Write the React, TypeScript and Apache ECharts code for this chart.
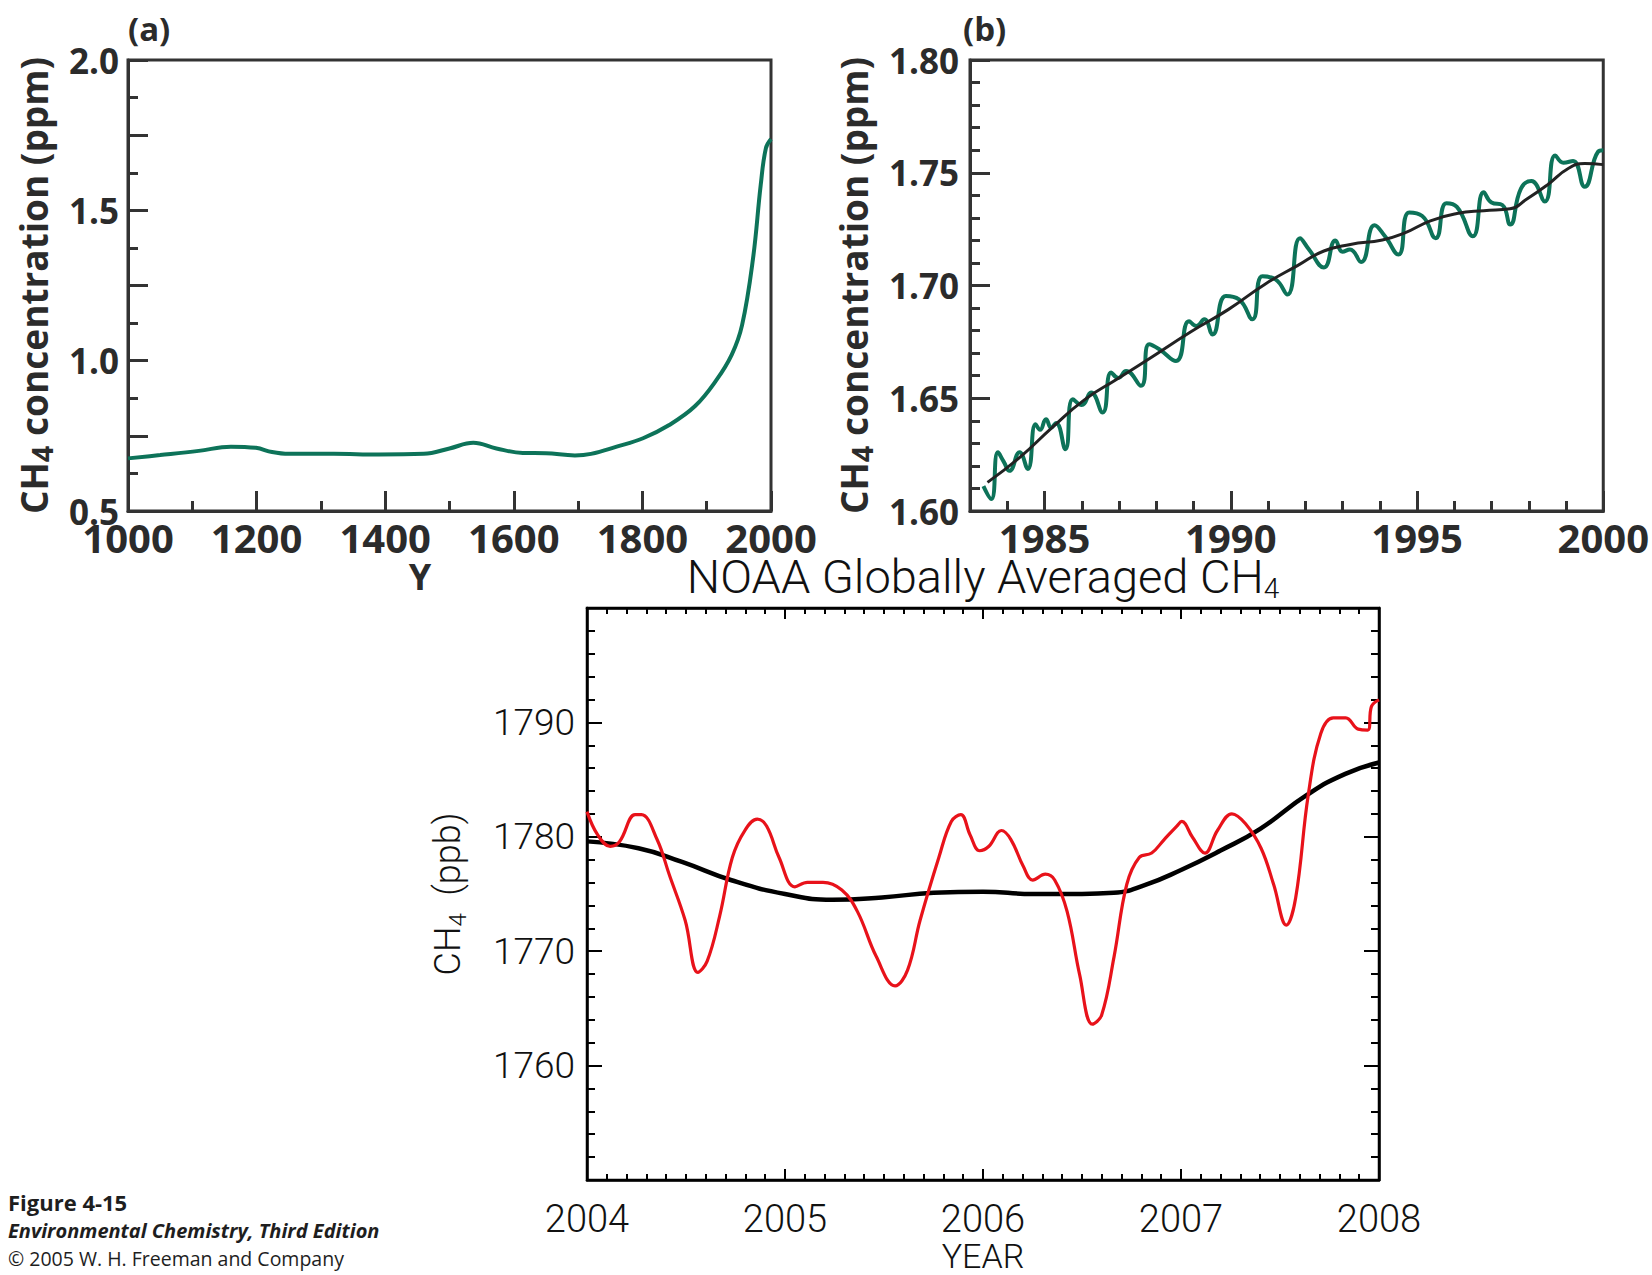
import React, { useEffect, useRef } from "react";
import * as echarts from "echarts";

// ---------- Panel (a): CH4 over the last millennium (ppm) ----------
const aYears = [1000, 1050, 1110, 1160, 1199, 1224, 1250, 1320, 1390, 1460, 1500, 1537, 1573, 1614, 1650, 1695, 1720, 1760, 1801, 1841, 1882, 1915, 1939, 1955, 1972, 1984, 1992, 2000];
const aCH4 = [0.675, 0.686, 0.700, 0.714, 0.710, 0.696, 0.690, 0.690, 0.688, 0.690, 0.708, 0.727, 0.708, 0.693, 0.692, 0.685, 0.690, 0.714, 0.742, 0.785, 0.849, 0.935, 1.020, 1.118, 1.339, 1.584, 1.706, 1.737];
const aYLabels = [0.5, 1.0, 1.5, 2.0];

// ---------- Panel (b): CH4 1983-2000 (ppm) ----------
const bYears = [1983.36, 1983.57, 1983.75, 1983.9, 1984.06, 1984.33, 1984.55, 1984.76, 1984.88, 1985.04, 1985.18, 1985.31, 1985.56, 1985.76, 1986.0, 1986.25, 1986.56, 1986.79, 1986.98, 1987.19, 1987.59, 1987.81, 1988.08, 1988.53, 1988.88, 1989.08, 1989.29, 1989.51, 1989.87, 1990.22, 1990.58, 1990.85, 1991.2, 1991.52, 1991.86, 1992.1, 1992.5, 1992.81, 1993.0, 1993.2, 1993.5, 1993.86, 1994.14, 1994.5, 1994.79, 1995.14, 1995.5, 1995.79, 1996.07, 1996.5, 1996.79, 1997.0, 1997.29, 1997.5, 1997.79, 1998.07, 1998.43, 1998.71, 1998.93, 1999.19, 1999.5, 1999.86, 2000.0];
const bCH4 = [1.611, 1.6053, 1.626, 1.622, 1.6178, 1.626, 1.6186, 1.6385, 1.636, 1.6407, 1.637, 1.639, 1.6274, 1.6496, 1.647, 1.6525, 1.6437, 1.6614, 1.659, 1.6621, 1.6555, 1.6739, 1.6717, 1.6665, 1.6842, 1.682, 1.685, 1.6783, 1.6953, 1.6938, 1.685, 1.7041, 1.7027, 1.696, 1.721, 1.716, 1.708, 1.720, 1.715, 1.716, 1.7104, 1.7267, 1.7218, 1.7137, 1.7324, 1.7308, 1.721, 1.7365, 1.7349, 1.7218, 1.7414, 1.7368, 1.7357, 1.727, 1.743, 1.7463, 1.7373, 1.7577, 1.7544, 1.7552, 1.7438, 1.7593, 1.760];
const bTrendYears = [1983.47, 1984.36, 1985.21, 1986.07, 1986.93, 1987.79, 1988.93, 1989.93, 1990.93, 1991.79, 1992.5, 1993.21, 1994.07, 1994.64, 1995.36, 1996.07, 1996.79, 1997.5, 1997.93, 1998.5, 1999.07, 1999.5, 2000.0];
const bTrend = [1.6127, 1.6241, 1.6371, 1.6493, 1.6583, 1.6673, 1.6795, 1.6893, 1.7007, 1.7088, 1.7153, 1.7182, 1.7202, 1.7231, 1.7287, 1.7319, 1.7332, 1.734, 1.7381, 1.7446, 1.752, 1.7541, 1.7536];
const bXLabels = [1985, 1990, 1995, 2000];

// ---------- Panel (c): NOAA globally averaged CH4 (ppb) ----------
const cYears = [2004.0, 2004.054, 2004.117, 2004.164, 2004.243, 2004.275, 2004.354, 2004.417, 2004.496, 2004.56, 2004.607, 2004.67, 2004.734, 2004.797, 2004.86, 2004.907, 2004.97, 2005.05, 2005.113, 2005.192, 2005.287, 2005.366, 2005.461, 2005.556, 2005.619, 2005.682, 2005.777, 2005.84, 2005.888, 2005.935, 2005.983, 2006.03, 2006.093, 2006.141, 2006.204, 2006.251, 2006.315, 2006.362, 2006.425, 2006.488, 2006.552, 2006.599, 2006.662, 2006.726, 2006.789, 2006.852, 2006.915, 2006.979, 2007.004, 2007.058, 2007.121, 2007.184, 2007.257, 2007.326, 2007.405, 2007.468, 2007.532, 2007.579, 2007.643, 2007.706, 2007.769, 2007.832, 2007.895, 2007.943, 2007.962, 2008.0];
const cCH4 = [1782.2, 1780.16, 1779.17, 1779.57, 1781.93, 1781.93, 1779.76, 1776.61, 1772.68, 1768.15, 1769.13, 1773.07, 1778.19, 1780.55, 1781.54, 1780.94, 1778.19, 1775.63, 1776.02, 1776.02, 1775.35, 1773.46, 1769.53, 1766.97, 1768.35, 1772.68, 1778.19, 1781.34, 1781.93, 1780.16, 1778.78, 1779.17, 1780.55, 1779.76, 1777.4, 1776.22, 1776.73, 1776.22, 1773.46, 1767.95, 1763.62, 1764.41, 1769.53, 1775.83, 1778.19, 1778.58, 1779.76, 1780.94, 1781.34, 1779.96, 1778.58, 1780.55, 1782.01, 1781.14, 1778.98, 1775.83, 1772.28, 1774.65, 1783.7, 1789.02, 1790.39, 1790.39, 1789.41, 1789.33, 1791.4, 1791.97];
const cTrendYears = [2004.0, 2004.26, 2004.48, 2004.73, 2005.0, 2005.24, 2005.49, 2005.75, 2006.0, 2006.25, 2006.5, 2006.66, 2006.82, 2007.0, 2007.2, 2007.4, 2007.64, 2007.83, 2008.0];
const cTrend = [1779.6, 1779.0, 1777.8, 1776.2, 1775.0, 1774.5, 1774.7, 1775.1, 1775.2, 1775.0, 1775.0, 1775.1, 1775.8, 1777.1, 1778.8, 1780.7, 1783.7, 1785.5, 1786.5];
const cYLabels = [1760, 1770, 1780, 1790];

const zip = (xs: number[], ys: number[]) => xs.map((x, i) => [x, ys[i]]);
const hasTick = (list: number[], v: number) => list.some((t) => Math.abs(t - v) < 1e-6);

const BOLD = "'Open Sans', 'Noto Sans', sans-serif";
const LIGHT = "Roboto, 'Noto Sans', sans-serif";
const INK = "#2b2b2b";
const FRAME = "#333333";
const GREEN = "#0d7359";

function buildOption(): any {
  const boldText = (size: number) => ({ fontFamily: BOLD, fontWeight: "bold", fontSize: size, color: INK });
  const lightText = (size: number) => ({ fontFamily: LIGHT, fontWeight: 300, fontSize: size, color: "#111" });
  const frameLine = { show: true, lineStyle: { color: FRAME, width: 3 } };
  const blackLine = { show: true, lineStyle: { color: "#000", width: 2.5 } };
  const tickAB = (len: number) => ({ show: true, inside: true, length: len, lineStyle: { color: FRAME, width: 3 } });
  const tickC = (len: number) => ({ show: true, inside: true, length: len, lineStyle: { color: "#000", width: 2 } });
  const noSplit = { show: false };

  const nameRichAB = {
    a: { fontFamily: BOLD, fontWeight: "bold", fontSize: 37, color: INK, lineHeight: 46, verticalAlign: "middle" },
    s: { fontFamily: BOLD, fontWeight: "bold", fontSize: 29, color: INK, lineHeight: 29, verticalAlign: "bottom" },
  };
  const nameRichC = {
    a: { fontFamily: LIGHT, fontWeight: 300, fontSize: 36, color: "#111", lineHeight: 44, verticalAlign: "middle" },
    s: { fontFamily: LIGHT, fontWeight: 300, fontSize: 24, color: "#111", lineHeight: 24, verticalAlign: "bottom" },
  };

  return {
    animation: false,
    backgroundColor: "#ffffff",
    grid: [
      { left: 128, top: 60, width: 643, height: 451, show: true, borderColor: FRAME, borderWidth: 3, backgroundColor: "transparent" },
      { left: 970, top: 60, width: 634, height: 451, show: true, borderColor: FRAME, borderWidth: 3, backgroundColor: "transparent" },
      { left: 587, top: 608, width: 792, height: 572, show: true, borderColor: "#000", borderWidth: 2.5, backgroundColor: "transparent" },
    ],
    xAxis: [
      {
        type: "value", gridIndex: 0, position: "bottom", min: 1000, max: 2000, interval: 200,
        axisLine: frameLine, axisTick: tickAB(20),
        minorTick: { show: true, splitNumber: 2, length: 10, lineStyle: { color: FRAME, width: 3 } },
        axisLabel: { ...boldText(40), lineHeight: 32, margin: 10, showMinLabel: true, showMaxLabel: true, formatter: (v: number) => String(v) },
        splitLine: noSplit, minorSplitLine: noSplit,
      },
      {
        type: "value", gridIndex: 1, position: "bottom", min: 1983, max: 2000, interval: 1,
        axisLine: frameLine, axisTick: tickAB(10),
        axisLabel: { ...boldText(40), lineHeight: 32, margin: 10, showMaxLabel: true, formatter: (v: number) => (hasTick(bXLabels, v) ? String(v) : "") },
        splitLine: noSplit,
      },
      {
        type: "value", gridIndex: 1, position: "bottom", min: 1983, max: 2000,
        axisLine: { show: false },
        axisTick: { ...tickAB(20), customValues: bXLabels },
        axisLabel: { show: false },
        splitLine: noSplit,
      },
      {
        type: "value", gridIndex: 2, position: "bottom", min: 2004, max: 2008, interval: 1,
        axisLine: blackLine, axisTick: tickC(11),
        minorTick: { show: true, splitNumber: 10, length: 6, lineStyle: { color: "#000", width: 2 } },
        axisLabel: { ...lightText(38), margin: 20, showMinLabel: true, showMaxLabel: true, formatter: (v: number) => String(v) },
        name: "YEAR", nameLocation: "middle", nameGap: 57,
        nameTextStyle: { ...lightText(34), lineHeight: 32 },
        splitLine: noSplit, minorSplitLine: noSplit,
      },
      {
        type: "value", gridIndex: 2, position: "top", min: 2004, max: 2008, interval: 1,
        axisLine: blackLine, axisTick: tickC(11),
        minorTick: { show: true, splitNumber: 10, length: 6, lineStyle: { color: "#000", width: 2 } },
        axisLabel: { show: false },
        splitLine: noSplit, minorSplitLine: noSplit,
      },
    ],
    yAxis: [
      {
        type: "value", gridIndex: 0, position: "left", min: 0.5, max: 2.0, interval: 0.25,
        axisLine: frameLine, axisTick: tickAB(20),
        minorTick: { show: true, splitNumber: 2, length: 10, lineStyle: { color: FRAME, width: 3 } },
        axisLabel: { ...boldText(35), lineHeight: 22, margin: 9, showMinLabel: true, showMaxLabel: true, formatter: (v: number) => (hasTick(aYLabels, v) ? v.toFixed(1) : "") },
        name: "{a|CH}{s|4}{a| concentration (ppm)}", nameLocation: "middle", nameRotate: 90, nameGap: 72,
        nameTextStyle: { rich: nameRichAB },
        splitLine: noSplit, minorSplitLine: noSplit,
      },
      {
        type: "value", gridIndex: 1, position: "left", min: 1.6, max: 1.8, interval: 0.05,
        axisLine: frameLine, axisTick: tickAB(20),
        minorTick: { show: true, splitNumber: 5, length: 10, lineStyle: { color: FRAME, width: 3 } },
        axisLabel: { ...boldText(35), lineHeight: 22, margin: 11, showMinLabel: true, showMaxLabel: true, formatter: (v: number) => v.toFixed(2) },
        name: "{a|CH}{s|4}{a| concentration (ppm)}", nameLocation: "middle", nameRotate: 90, nameGap: 94,
        nameTextStyle: { rich: nameRichAB },
        splitLine: noSplit, minorSplitLine: noSplit,
      },
      {
        type: "value", gridIndex: 2, position: "left", min: 1750, max: 1800, interval: 10,
        axisLine: blackLine, axisTick: tickC(15),
        minorTick: { show: true, splitNumber: 5, length: 8, lineStyle: { color: "#000", width: 2 } },
        axisLabel: { ...lightText(37), margin: 12, formatter: (v: number) => (hasTick(cYLabels, v) ? String(v) : "") },
        name: "{a|CH}{s|4}{a|  (ppb)}", nameLocation: "middle", nameRotate: 90, nameGap: 117,
        nameTextStyle: { rich: nameRichC },
        splitLine: noSplit, minorSplitLine: noSplit,
      },
      {
        type: "value", gridIndex: 2, position: "right", min: 1750, max: 1800, interval: 10,
        axisLine: blackLine, axisTick: tickC(15),
        minorTick: { show: true, splitNumber: 5, length: 8, lineStyle: { color: "#000", width: 2 } },
        axisLabel: { show: false },
        splitLine: noSplit, minorSplitLine: noSplit,
      },
    ],
    series: [
      {
        type: "line", xAxisIndex: 0, yAxisIndex: 0, data: zip(aYears, aCH4), smooth: 0.4,
        showSymbol: false, lineStyle: { color: GREEN, width: 4 }, z: 3,
      },
      {
        type: "line", xAxisIndex: 1, yAxisIndex: 1, data: zip(bYears, bCH4), smooth: 0.5,
        showSymbol: false, lineStyle: { color: GREEN, width: 4 }, z: 3,
      },
      {
        type: "line", xAxisIndex: 1, yAxisIndex: 1, data: zip(bTrendYears, bTrend), smooth: 0.5,
        showSymbol: false, lineStyle: { color: "#222222", width: 3 }, z: 4,
      },
      {
        type: "line", xAxisIndex: 3, yAxisIndex: 2, data: zip(cTrendYears, cTrend), smooth: 0.5,
        showSymbol: false, lineStyle: { color: "#000000", width: 4.5 }, z: 3,
      },
      {
        type: "line", xAxisIndex: 3, yAxisIndex: 2, data: zip(cYears, cCH4), smooth: 0.4,
        showSymbol: false, lineStyle: { color: "#e8121a", width: 3.2 }, z: 4,
      },
    ],
    graphic: [
      { type: "text", x: 128, y: 28, style: { text: "(a)", fontFamily: BOLD, fontWeight: "bold", fontSize: 33, fill: INK, align: "left", verticalAlign: "middle" } },
      { type: "text", x: 963, y: 28, style: { text: "(b)", fontFamily: BOLD, fontWeight: "bold", fontSize: 33, fill: INK, align: "left", verticalAlign: "middle" } },
      { type: "text", x: 420, y: 576, style: { text: "Y", fontFamily: BOLD, fontWeight: "bold", fontSize: 36, fill: INK, align: "center", verticalAlign: "middle" } },
      {
        type: "text", x: 983, y: 576,
        style: {
          text: "{t|NOAA Globally Averaged CH}{s|4}", align: "center", verticalAlign: "middle",
          rich: {
            t: { fontFamily: LIGHT, fontWeight: 300, fontSize: 47, fill: "#111", lineHeight: 52, verticalAlign: "middle" },
            s: { fontFamily: LIGHT, fontWeight: 300, fontSize: 28, fill: "#111", lineHeight: 28, verticalAlign: "bottom" },
          },
        },
      },
      { type: "text", x: 8, y: 1202, style: { text: "Figure 4-15", fontFamily: BOLD, fontWeight: "bold", fontSize: 22, fill: "#1e1e1e", align: "left", verticalAlign: "middle" } },
      { type: "text", x: 8, y: 1230, style: { text: "Environmental Chemistry, Third Edition", fontFamily: BOLD, fontWeight: "bold", fontStyle: "italic", fontSize: 20, fill: "#1e1e1e", align: "left", verticalAlign: "middle" } },
      { type: "text", x: 8, y: 1258, style: { text: "© 2005 W. H. Freeman and Company", fontFamily: BOLD, fontSize: 19.5, fill: "#1e1e1e", align: "left", verticalAlign: "middle" } },
    ],
  };
}

export default function App() {
  const ref = useRef<HTMLDivElement>(null);
  useEffect(() => {
    document.body.style.margin = "0";
    if (!ref.current) return;
    const chart = echarts.init(ref.current, undefined, { renderer: "svg" });
    chart.setOption(buildOption());
    return () => chart.dispose();
  }, []);
  return <div ref={ref} style={{ position: "absolute", left: 0, top: 0, width: 1652, height: 1275, background: "#fff" }} />;
}
